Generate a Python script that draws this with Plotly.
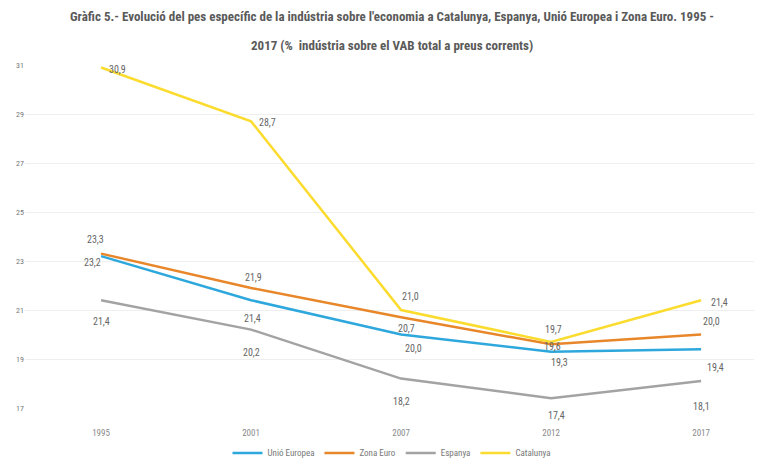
import plotly.graph_objects as go

years = ["1995", "2001", "2007", "2012", "2017"]
series_names = ["Unió Europea", "Zona Euro", "Espanya", "Catalunya"]
ue = [23.2, 21.4, 20.0, 19.3, 19.4]
zona_euro = [23.3, 21.9, 20.7, 19.6, 20.0]
espanya = [21.4, 20.2, 18.2, 17.4, 18.1]
catalunya = [30.9, 28.7, 21.0, 19.7, 21.4]
y_ticks = [17, 19, 21, 23, 25, 27, 29, 31]
title_lines = [
    "Gràfic 5.- Evolució del pes específic de la indústria sobre l'economia a Catalunya, Espanya, Unió Europea i Zona Euro. 1995 -",
    "2017 (%  indústria sobre el VAB total a preus corrents)",
]

values = [ue, zona_euro, espanya, catalunya]
colors = ["#2ea8dc", "#e8862a", "#a3a3a3", "#fbdc2e"]

# label offsets (px) per series per point (xshift, yshift)
offsets = [
    [(-9, -6), (1, -18), (12, -14), (8, -11), (14, -18)],    # UE
    [(-6, 14), (2, 10), (5, -11), (1, -2), (10, 13)],        # Zona Euro
    [(0, -21), (0, -23), (0, -23), (5, -17), (0, -25)],      # Espanya
    [(16, -2), (16, -1), (9, 14), (2, 12), (18, -2)],        # Catalunya
]

font = "Liberation Sans Narrow, Arial Narrow, Roboto Condensed, Roboto, sans-serif"

fig = go.Figure()
for name, vals, col in zip(series_names, values, colors):
    fig.add_trace(go.Scatter(x=list(range(len(years))), y=vals, mode="lines", name=name,
                             line=dict(color=col, width=2.5)))

annotations = []
for vals, offs in zip(values, offsets):
    for i, (v, (dx, dy)) in enumerate(zip(vals, offs)):
        annotations.append(dict(x=i, y=v, xref="x", yref="y",
                                text=f"{v:.1f}".replace(".", ","),
                                showarrow=False, xshift=dx, yshift=dy,
                                font=dict(family=font, size=10, color="#666666")))

for ty, line in zip([1.140, 1.058], title_lines):
    annotations.append(dict(x=0.5, y=ty, xref="paper", yref="paper", xanchor="center",
                            yanchor="middle", showarrow=False, text=f"<b>{line}</b>",
                            font=dict(family=font, size=13, color="#5a5a5a")))

# page has an 8px body margin: figure is sized/offset to compensate
fig.update_layout(
    width=754, height=458,
    margin=dict(l=17, r=3, t=57, b=58, autoexpand=False),
    paper_bgcolor="white", plot_bgcolor="white",
    xaxis=dict(tickmode="array", tickvals=list(range(len(years))), ticktext=years,
               range=[-0.507, 4.386], showgrid=False, zeroline=False,
               showline=False, ticks="outside", ticklen=16, tickcolor="rgba(0,0,0,0)",
               automargin=False,
               tickfont=dict(family=font, size=9, color="#8a8a8a")),
    yaxis=dict(range=[17, 31], tickvals=y_ticks, showgrid=True, gridcolor="#efefef",
               zeroline=False, showline=False, automargin=False,
               tickfont=dict(family=font, size=8, color="#777777")),
    legend=dict(orientation="h", x=0.5, xanchor="center", y=-0.131, yanchor="middle",
                font=dict(family=font, size=9, color="#777777"), itemwidth=30),
    annotations=annotations,
    showlegend=True,
)

fig.write_html("out.html")
